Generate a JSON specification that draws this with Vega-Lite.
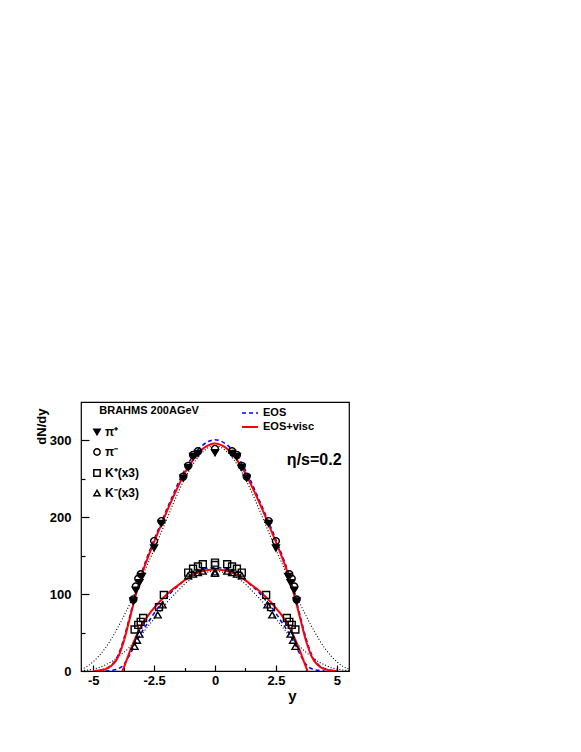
{
  "$schema": "https://vega.github.io/schema/vega-lite/v6.json",
  "width": 268,
  "height": 269,
  "autosize": {"type": "none"},
  "padding": {"left": 81, "top": 402, "right": 232, "bottom": 81},
  "background": "white",
  "config": {
    "view": {"stroke": "black", "strokeWidth": 1.2},
    "font": "Liberation Sans",
    "axis": {"grid": false, "domain": false, "labelFont": "Liberation Sans", "titleFont": "Liberation Sans", "labelColor": "black", "titleColor": "black", "tickColor": "black", "tickWidth": 1.2, "labelFontWeight": "bold", "titleFontWeight": "bold", "labelFontSize": 13},
    "legend": {"labelFont": "Liberation Sans", "labelColor": "black", "labelFontWeight": "bold"}
  },
  "datasets": {
    "curves": [
      {"x":-5.5,"v":2.5,"m":"(dotted)","s":"pi"},{"x":-5.25,"v":6,"m":"(dotted)","s":"pi"},{"x":-5,"v":12,"m":"(dotted)","s":"pi"},{"x":-4.75,"v":20,"m":"(dotted)","s":"pi"},{"x":-4.5,"v":30,"m":"(dotted)","s":"pi"},{"x":-4.25,"v":42,"m":"(dotted)","s":"pi"},{"x":-4,"v":56,"m":"(dotted)","s":"pi"},{"x":-3.75,"v":71,"m":"(dotted)","s":"pi"},{"x":-3.5,"v":87,"m":"(dotted)","s":"pi"},{"x":-3.25,"v":104,"m":"(dotted)","s":"pi"},{"x":-3,"v":122,"m":"(dotted)","s":"pi"},{"x":-2.75,"v":140,"m":"(dotted)","s":"pi"},{"x":-2.5,"v":158,"m":"(dotted)","s":"pi"},{"x":-2.25,"v":177,"m":"(dotted)","s":"pi"},{"x":-2,"v":196,"m":"(dotted)","s":"pi"},{"x":-1.75,"v":215,"m":"(dotted)","s":"pi"},{"x":-1.5,"v":233,"m":"(dotted)","s":"pi"},{"x":-1.25,"v":250,"m":"(dotted)","s":"pi"},{"x":-1,"v":264,"m":"(dotted)","s":"pi"},{"x":-0.75,"v":276,"m":"(dotted)","s":"pi"},{"x":-0.5,"v":285,"m":"(dotted)","s":"pi"},{"x":-0.25,"v":291,"m":"(dotted)","s":"pi"},{"x":0,"v":293,"m":"(dotted)","s":"pi"},{"x":0.25,"v":291,"m":"(dotted)","s":"pi"},{"x":0.5,"v":285,"m":"(dotted)","s":"pi"},{"x":0.75,"v":276,"m":"(dotted)","s":"pi"},{"x":1,"v":264,"m":"(dotted)","s":"pi"},{"x":1.25,"v":250,"m":"(dotted)","s":"pi"},{"x":1.5,"v":233,"m":"(dotted)","s":"pi"},{"x":1.75,"v":215,"m":"(dotted)","s":"pi"},{"x":2,"v":196,"m":"(dotted)","s":"pi"},{"x":2.25,"v":177,"m":"(dotted)","s":"pi"},{"x":2.5,"v":158,"m":"(dotted)","s":"pi"},{"x":2.75,"v":140,"m":"(dotted)","s":"pi"},{"x":3,"v":122,"m":"(dotted)","s":"pi"},{"x":3.25,"v":104,"m":"(dotted)","s":"pi"},{"x":3.5,"v":87,"m":"(dotted)","s":"pi"},{"x":3.75,"v":71,"m":"(dotted)","s":"pi"},{"x":4,"v":56,"m":"(dotted)","s":"pi"},{"x":4.25,"v":42,"m":"(dotted)","s":"pi"},{"x":4.5,"v":30,"m":"(dotted)","s":"pi"},{"x":4.75,"v":20,"m":"(dotted)","s":"pi"},{"x":5,"v":12,"m":"(dotted)","s":"pi"},{"x":5.25,"v":6,"m":"(dotted)","s":"pi"},{"x":5.5,"v":2.5,"m":"(dotted)","s":"pi"},

      {"x":-5.5,"v":0.5,"m":"(dotted)","s":"K"},{"x":-5.25,"v":1.2,"m":"(dotted)","s":"K"},{"x":-5,"v":2.5,"m":"(dotted)","s":"K"},{"x":-4.75,"v":4.5,"m":"(dotted)","s":"K"},{"x":-4.5,"v":8,"m":"(dotted)","s":"K"},{"x":-4.25,"v":12,"m":"(dotted)","s":"K"},{"x":-4,"v":18,"m":"(dotted)","s":"K"},{"x":-3.75,"v":24,"m":"(dotted)","s":"K"},{"x":-3.5,"v":31,"m":"(dotted)","s":"K"},{"x":-3.25,"v":39,"m":"(dotted)","s":"K"},{"x":-3,"v":48,"m":"(dotted)","s":"K"},{"x":-2.75,"v":58,"m":"(dotted)","s":"K"},{"x":-2.5,"v":68,"m":"(dotted)","s":"K"},{"x":-2.25,"v":78,"m":"(dotted)","s":"K"},{"x":-2,"v":88,"m":"(dotted)","s":"K"},{"x":-1.75,"v":97,"m":"(dotted)","s":"K"},{"x":-1.5,"v":105,"m":"(dotted)","s":"K"},{"x":-1.25,"v":113,"m":"(dotted)","s":"K"},{"x":-1,"v":119,"m":"(dotted)","s":"K"},{"x":-0.75,"v":124,"m":"(dotted)","s":"K"},{"x":-0.5,"v":127,"m":"(dotted)","s":"K"},{"x":-0.25,"v":129,"m":"(dotted)","s":"K"},{"x":0,"v":130,"m":"(dotted)","s":"K"},{"x":0.25,"v":129,"m":"(dotted)","s":"K"},{"x":0.5,"v":127,"m":"(dotted)","s":"K"},{"x":0.75,"v":124,"m":"(dotted)","s":"K"},{"x":1,"v":119,"m":"(dotted)","s":"K"},{"x":1.25,"v":113,"m":"(dotted)","s":"K"},{"x":1.5,"v":105,"m":"(dotted)","s":"K"},{"x":1.75,"v":97,"m":"(dotted)","s":"K"},{"x":2,"v":88,"m":"(dotted)","s":"K"},{"x":2.25,"v":78,"m":"(dotted)","s":"K"},{"x":2.5,"v":68,"m":"(dotted)","s":"K"},{"x":2.75,"v":58,"m":"(dotted)","s":"K"},{"x":3,"v":48,"m":"(dotted)","s":"K"},{"x":3.25,"v":39,"m":"(dotted)","s":"K"},{"x":3.5,"v":31,"m":"(dotted)","s":"K"},{"x":3.75,"v":24,"m":"(dotted)","s":"K"},{"x":4,"v":18,"m":"(dotted)","s":"K"},{"x":4.25,"v":12,"m":"(dotted)","s":"K"},{"x":4.5,"v":8,"m":"(dotted)","s":"K"},{"x":4.75,"v":4.5,"m":"(dotted)","s":"K"},{"x":5,"v":2.5,"m":"(dotted)","s":"K"},{"x":5.25,"v":1.2,"m":"(dotted)","s":"K"},{"x":5.5,"v":0.5,"m":"(dotted)","s":"K"},

      {"x":-5,"v":0,"m":"EOS","s":"pi"},{"x":-4.75,"v":1,"m":"EOS","s":"pi"},{"x":-4.5,"v":3,"m":"EOS","s":"pi"},{"x":-4.25,"v":8,"m":"EOS","s":"pi"},{"x":-4,"v":19,"m":"EOS","s":"pi"},{"x":-3.75,"v":41,"m":"EOS","s":"pi"},{"x":-3.5,"v":71,"m":"EOS","s":"pi"},{"x":-3.25,"v":102,"m":"EOS","s":"pi"},{"x":-3,"v":129,"m":"EOS","s":"pi"},{"x":-2.75,"v":151,"m":"EOS","s":"pi"},{"x":-2.5,"v":171,"m":"EOS","s":"pi"},{"x":-2.25,"v":190,"m":"EOS","s":"pi"},{"x":-2,"v":209,"m":"EOS","s":"pi"},{"x":-1.75,"v":227,"m":"EOS","s":"pi"},{"x":-1.5,"v":245,"m":"EOS","s":"pi"},{"x":-1.25,"v":261,"m":"EOS","s":"pi"},{"x":-1,"v":275,"m":"EOS","s":"pi"},{"x":-0.75,"v":286,"m":"EOS","s":"pi"},{"x":-0.5,"v":294,"m":"EOS","s":"pi"},{"x":-0.25,"v":299,"m":"EOS","s":"pi"},{"x":0,"v":301,"m":"EOS","s":"pi"},{"x":0.25,"v":299,"m":"EOS","s":"pi"},{"x":0.5,"v":294,"m":"EOS","s":"pi"},{"x":0.75,"v":286,"m":"EOS","s":"pi"},{"x":1,"v":275,"m":"EOS","s":"pi"},{"x":1.25,"v":261,"m":"EOS","s":"pi"},{"x":1.5,"v":245,"m":"EOS","s":"pi"},{"x":1.75,"v":227,"m":"EOS","s":"pi"},{"x":2,"v":209,"m":"EOS","s":"pi"},{"x":2.25,"v":190,"m":"EOS","s":"pi"},{"x":2.5,"v":171,"m":"EOS","s":"pi"},{"x":2.75,"v":151,"m":"EOS","s":"pi"},{"x":3,"v":129,"m":"EOS","s":"pi"},{"x":3.25,"v":102,"m":"EOS","s":"pi"},{"x":3.5,"v":71,"m":"EOS","s":"pi"},{"x":3.75,"v":41,"m":"EOS","s":"pi"},{"x":4,"v":19,"m":"EOS","s":"pi"},{"x":4.25,"v":8,"m":"EOS","s":"pi"},{"x":4.5,"v":3,"m":"EOS","s":"pi"},{"x":4.75,"v":1,"m":"EOS","s":"pi"},{"x":5,"v":0,"m":"EOS","s":"pi"},

      {"x":-4.5,"v":0,"m":"EOS","s":"K"},{"x":-4.25,"v":0.8,"m":"EOS","s":"K"},{"x":-4,"v":2.5,"m":"EOS","s":"K"},{"x":-3.75,"v":8,"m":"EOS","s":"K"},{"x":-3.5,"v":21,"m":"EOS","s":"K"},{"x":-3.25,"v":37,"m":"EOS","s":"K"},{"x":-3,"v":51,"m":"EOS","s":"K"},{"x":-2.75,"v":63,"m":"EOS","s":"K"},{"x":-2.5,"v":75,"m":"EOS","s":"K"},{"x":-2.25,"v":86,"m":"EOS","s":"K"},{"x":-2,"v":95,"m":"EOS","s":"K"},{"x":-1.75,"v":104,"m":"EOS","s":"K"},{"x":-1.5,"v":111,"m":"EOS","s":"K"},{"x":-1.25,"v":118,"m":"EOS","s":"K"},{"x":-1,"v":124,"m":"EOS","s":"K"},{"x":-0.75,"v":128,"m":"EOS","s":"K"},{"x":-0.5,"v":132,"m":"EOS","s":"K"},{"x":-0.25,"v":134,"m":"EOS","s":"K"},{"x":0,"v":135,"m":"EOS","s":"K"},{"x":0.25,"v":134,"m":"EOS","s":"K"},{"x":0.5,"v":132,"m":"EOS","s":"K"},{"x":0.75,"v":128,"m":"EOS","s":"K"},{"x":1,"v":124,"m":"EOS","s":"K"},{"x":1.25,"v":118,"m":"EOS","s":"K"},{"x":1.5,"v":111,"m":"EOS","s":"K"},{"x":1.75,"v":104,"m":"EOS","s":"K"},{"x":2,"v":95,"m":"EOS","s":"K"},{"x":2.25,"v":86,"m":"EOS","s":"K"},{"x":2.5,"v":75,"m":"EOS","s":"K"},{"x":2.75,"v":63,"m":"EOS","s":"K"},{"x":3,"v":51,"m":"EOS","s":"K"},{"x":3.25,"v":37,"m":"EOS","s":"K"},{"x":3.5,"v":21,"m":"EOS","s":"K"},{"x":3.75,"v":8,"m":"EOS","s":"K"},{"x":4,"v":2.5,"m":"EOS","s":"K"},{"x":4.25,"v":0.8,"m":"EOS","s":"K"},{"x":4.5,"v":0,"m":"EOS","s":"K"},

      {"x":-5,"v":0,"m":"EOS+visc","s":"pi"},{"x":-4.75,"v":0.8,"m":"EOS+visc","s":"pi"},{"x":-4.5,"v":2.5,"m":"EOS+visc","s":"pi"},{"x":-4.25,"v":7,"m":"EOS+visc","s":"pi"},{"x":-4,"v":17,"m":"EOS+visc","s":"pi"},{"x":-3.75,"v":38,"m":"EOS+visc","s":"pi"},{"x":-3.5,"v":68,"m":"EOS+visc","s":"pi"},{"x":-3.25,"v":99,"m":"EOS+visc","s":"pi"},{"x":-3,"v":126,"m":"EOS+visc","s":"pi"},{"x":-2.75,"v":148,"m":"EOS+visc","s":"pi"},{"x":-2.5,"v":168,"m":"EOS+visc","s":"pi"},{"x":-2.25,"v":187,"m":"EOS+visc","s":"pi"},{"x":-2,"v":206,"m":"EOS+visc","s":"pi"},{"x":-1.75,"v":224,"m":"EOS+visc","s":"pi"},{"x":-1.5,"v":241,"m":"EOS+visc","s":"pi"},{"x":-1.25,"v":257,"m":"EOS+visc","s":"pi"},{"x":-1,"v":270,"m":"EOS+visc","s":"pi"},{"x":-0.75,"v":281,"m":"EOS+visc","s":"pi"},{"x":-0.5,"v":289,"m":"EOS+visc","s":"pi"},{"x":-0.25,"v":294,"m":"EOS+visc","s":"pi"},{"x":0,"v":296,"m":"EOS+visc","s":"pi"},{"x":0.25,"v":294,"m":"EOS+visc","s":"pi"},{"x":0.5,"v":289,"m":"EOS+visc","s":"pi"},{"x":0.75,"v":281,"m":"EOS+visc","s":"pi"},{"x":1,"v":270,"m":"EOS+visc","s":"pi"},{"x":1.25,"v":257,"m":"EOS+visc","s":"pi"},{"x":1.5,"v":241,"m":"EOS+visc","s":"pi"},{"x":1.75,"v":224,"m":"EOS+visc","s":"pi"},{"x":2,"v":206,"m":"EOS+visc","s":"pi"},{"x":2.25,"v":187,"m":"EOS+visc","s":"pi"},{"x":2.5,"v":168,"m":"EOS+visc","s":"pi"},{"x":2.75,"v":148,"m":"EOS+visc","s":"pi"},{"x":3,"v":126,"m":"EOS+visc","s":"pi"},{"x":3.25,"v":99,"m":"EOS+visc","s":"pi"},{"x":3.5,"v":68,"m":"EOS+visc","s":"pi"},{"x":3.75,"v":38,"m":"EOS+visc","s":"pi"},{"x":4,"v":17,"m":"EOS+visc","s":"pi"},{"x":4.25,"v":7,"m":"EOS+visc","s":"pi"},{"x":4.5,"v":2.5,"m":"EOS+visc","s":"pi"},{"x":4.75,"v":0.8,"m":"EOS+visc","s":"pi"},{"x":5,"v":0,"m":"EOS+visc","s":"pi"},

      {"x":-3.8,"v":0,"m":"EOS+visc","s":"K"},{"x":-3.7,"v":8,"m":"EOS+visc","s":"K"},{"x":-3.5,"v":25,"m":"EOS+visc","s":"K"},{"x":-3.25,"v":44,"m":"EOS+visc","s":"K"},{"x":-3,"v":60,"m":"EOS+visc","s":"K"},{"x":-2.75,"v":72,"m":"EOS+visc","s":"K"},{"x":-2.5,"v":82,"m":"EOS+visc","s":"K"},{"x":-2.25,"v":91,"m":"EOS+visc","s":"K"},{"x":-2,"v":99,"m":"EOS+visc","s":"K"},{"x":-1.75,"v":106,"m":"EOS+visc","s":"K"},{"x":-1.5,"v":112,"m":"EOS+visc","s":"K"},{"x":-1.25,"v":118,"m":"EOS+visc","s":"K"},{"x":-1,"v":123,"m":"EOS+visc","s":"K"},{"x":-0.75,"v":127,"m":"EOS+visc","s":"K"},{"x":-0.5,"v":130,"m":"EOS+visc","s":"K"},{"x":-0.25,"v":131.5,"m":"EOS+visc","s":"K"},{"x":0,"v":132,"m":"EOS+visc","s":"K"},{"x":0.25,"v":131.5,"m":"EOS+visc","s":"K"},{"x":0.5,"v":130,"m":"EOS+visc","s":"K"},{"x":0.75,"v":127,"m":"EOS+visc","s":"K"},{"x":1,"v":123,"m":"EOS+visc","s":"K"},{"x":1.25,"v":118,"m":"EOS+visc","s":"K"},{"x":1.5,"v":112,"m":"EOS+visc","s":"K"},{"x":1.75,"v":106,"m":"EOS+visc","s":"K"},{"x":2,"v":99,"m":"EOS+visc","s":"K"},{"x":2.25,"v":91,"m":"EOS+visc","s":"K"},{"x":2.5,"v":82,"m":"EOS+visc","s":"K"},{"x":2.75,"v":72,"m":"EOS+visc","s":"K"},{"x":3,"v":60,"m":"EOS+visc","s":"K"},{"x":3.25,"v":44,"m":"EOS+visc","s":"K"},{"x":3.5,"v":25,"m":"EOS+visc","s":"K"},{"x":3.7,"v":8,"m":"EOS+visc","s":"K"},{"x":3.8,"v":0,"m":"EOS+visc","s":"K"}
    ],
    "points": [
      {"x":-3.35,"v":91,"p":"π⁺"},{"x":-3.25,"v":105,"p":"π⁺"},{"x":-3.1,"v":115,"p":"π⁺"},{"x":-3.0,"v":123,"p":"π⁺"},{"x":-2.5,"v":160,"p":"π⁺"},{"x":-2.2,"v":192,"p":"π⁺"},{"x":-1.3,"v":251,"p":"π⁺"},{"x":-1.1,"v":265,"p":"π⁺"},{"x":-0.9,"v":279,"p":"π⁺"},{"x":-0.7,"v":283,"p":"π⁺"},{"x":0,"v":284,"p":"π⁺"},{"x":0.7,"v":283,"p":"π⁺"},{"x":0.9,"v":279,"p":"π⁺"},{"x":1.1,"v":265,"p":"π⁺"},{"x":1.3,"v":251,"p":"π⁺"},{"x":2.2,"v":192,"p":"π⁺"},{"x":2.5,"v":160,"p":"π⁺"},{"x":3.0,"v":123,"p":"π⁺"},{"x":3.1,"v":115,"p":"π⁺"},{"x":3.25,"v":105,"p":"π⁺"},{"x":3.35,"v":91,"p":"π⁺"},
      {"x":-3.35,"v":93,"p":"π⁻"},{"x":-3.25,"v":110,"p":"π⁻"},{"x":-3.15,"v":120,"p":"π⁻"},{"x":-3.05,"v":126,"p":"π⁻"},{"x":-2.5,"v":169,"p":"π⁻"},{"x":-2.2,"v":195,"p":"π⁻"},{"x":-1.3,"v":253,"p":"π⁻"},{"x":-1.1,"v":267,"p":"π⁻"},{"x":-0.9,"v":281,"p":"π⁻"},{"x":-0.7,"v":286,"p":"π⁻"},{"x":0,"v":289,"p":"π⁻"},{"x":0.7,"v":286,"p":"π⁻"},{"x":0.9,"v":281,"p":"π⁻"},{"x":1.1,"v":267,"p":"π⁻"},{"x":1.3,"v":253,"p":"π⁻"},{"x":2.2,"v":195,"p":"π⁻"},{"x":2.5,"v":169,"p":"π⁻"},{"x":3.05,"v":126,"p":"π⁻"},{"x":3.15,"v":120,"p":"π⁻"},{"x":3.25,"v":110,"p":"π⁻"},{"x":3.35,"v":93,"p":"π⁻"},
      {"x":-3.3,"v":54,"p":"K⁺(x3)"},{"x":-3.15,"v":60,"p":"K⁺(x3)"},{"x":-3.05,"v":64,"p":"K⁺(x3)"},{"x":-2.95,"v":69,"p":"K⁺(x3)"},{"x":-2.3,"v":83,"p":"K⁺(x3)"},{"x":-2.1,"v":99,"p":"K⁺(x3)"},{"x":-1.1,"v":128,"p":"K⁺(x3)"},{"x":-0.9,"v":133,"p":"K⁺(x3)"},{"x":-0.7,"v":136,"p":"K⁺(x3)"},{"x":-0.5,"v":139,"p":"K⁺(x3)"},{"x":0,"v":141,"p":"K⁺(x3)"},{"x":0,"v":138,"p":"K⁺(x3)"},{"x":0.5,"v":139,"p":"K⁺(x3)"},{"x":0.7,"v":136,"p":"K⁺(x3)"},{"x":0.9,"v":133,"p":"K⁺(x3)"},{"x":1.1,"v":128,"p":"K⁺(x3)"},{"x":2.1,"v":99,"p":"K⁺(x3)"},{"x":2.3,"v":83,"p":"K⁺(x3)"},{"x":2.95,"v":69,"p":"K⁺(x3)"},{"x":3.05,"v":64,"p":"K⁺(x3)"},{"x":3.15,"v":60,"p":"K⁺(x3)"},{"x":3.3,"v":54,"p":"K⁺(x3)"},
      {"x":-3.3,"v":32,"p":"K⁻(x3)"},{"x":-3.2,"v":40,"p":"K⁻(x3)"},{"x":-3.1,"v":48,"p":"K⁻(x3)"},{"x":-2.35,"v":73,"p":"K⁻(x3)"},{"x":-2.15,"v":86,"p":"K⁻(x3)"},{"x":-1.1,"v":124,"p":"K⁻(x3)"},{"x":-0.9,"v":126,"p":"K⁻(x3)"},{"x":-0.7,"v":128,"p":"K⁻(x3)"},{"x":-0.5,"v":130,"p":"K⁻(x3)"},{"x":0,"v":129,"p":"K⁻(x3)"},{"x":0,"v":127,"p":"K⁻(x3)"},{"x":0.5,"v":130,"p":"K⁻(x3)"},{"x":0.7,"v":128,"p":"K⁻(x3)"},{"x":0.9,"v":126,"p":"K⁻(x3)"},{"x":1.1,"v":124,"p":"K⁻(x3)"},{"x":2.15,"v":86,"p":"K⁻(x3)"},{"x":2.35,"v":73,"p":"K⁻(x3)"},{"x":3.1,"v":48,"p":"K⁻(x3)"},{"x":3.2,"v":40,"p":"K⁻(x3)"},{"x":3.3,"v":32,"p":"K⁻(x3)"}
    ]
  },
  "encoding": {
    "x": {"type": "quantitative",
      "scale": {"domain": [-5.5, 5.5], "nice": false, "zero": false},
      "axis": {"title": "y", "values": [-5,-3.75,-2.5,-1.25,0,1.25,2.5,3.75,5],
        "labelExpr": "abs(datum.value % 2.5) < 0.001 ? toString(datum.value) : ''",
        "tickSize": {"condition": {"test": "abs(datum.value % 2.5) < 0.001", "value": -6}, "value": -3.5},
        "labelPadding": 9, "titleFontSize": 15, "titleX": 211, "titleY": 29, "titleAlign": "center", "titleBaseline": "alphabetic"}},
    "y": {"type": "quantitative",
      "scale": {"domain": [0, 350], "nice": false, "zero": true},
      "axis": {"title": "dN/dy", "values": [0,50,100,150,200,250,300],
        "labelExpr": "datum.value % 100 === 0 ? toString(datum.value) : ''",
        "tickSize": {"condition": {"test": "datum.value % 100 === 0", "value": -8}, "value": -4},
        "labelPadding": 18, "titleFontSize": 13, "titleX": -40, "titleY": 6, "titleAngle": 270, "titleAlign": "right", "titleBaseline": "middle"}}
  },
  "layer": [
    {
      "data": {"name": "curves"},
      "mark": {"type": "line", "interpolate": "monotone", "clip": true},
      "encoding": {
        "x": {"field": "x", "type": "quantitative"},
        "y": {"field": "v", "type": "quantitative"},
        "detail": {"field": "s", "type": "nominal"},
        "color": {"field": "m", "type": "nominal",
          "scale": {"domain": ["(dotted)", "EOS", "EOS+visc"], "range": ["#000000", "#0000ff", "#ff0000"]},
          "legend": {"orient": "none", "legendX": 160, "legendY": 2, "title": null, "values": ["EOS", "EOS+visc"], "symbolType": "stroke", "symbolSize": 256, "symbolStrokeWidth": 2, "labelFontSize": 11, "rowPadding": 0, "labelOffset": 4}},
        "strokeDash": {"field": "m", "type": "nominal",
          "scale": {"domain": ["(dotted)", "EOS", "EOS+visc"], "range": [[1, 2], [4, 3], [1, 0]]},
          "legend": {"orient": "none", "legendX": 160, "legendY": 2, "title": null, "values": ["EOS", "EOS+visc"], "symbolType": "stroke", "symbolSize": 256, "symbolStrokeWidth": 2, "labelFontSize": 11, "rowPadding": 0, "labelOffset": 4}},
        "strokeWidth": {"field": "m", "type": "ordinal",
          "scale": {"domain": ["(dotted)", "EOS", "EOS+visc"], "range": [1.1, 2, 1.5]}, "legend": null}
      }
    },
    {
      "data": {"name": "points"},
      "mark": {"type": "point", "stroke": "black", "strokeWidth": 1.4, "size": 48, "opacity": 1},
      "encoding": {
        "x": {"field": "x", "type": "quantitative"},
        "y": {"field": "v", "type": "quantitative"},
        "shape": {"field": "p", "type": "nominal",
          "scale": {"domain": ["π⁺", "π⁻", "K⁺(x3)", "K⁻(x3)"], "range": ["triangle-down", "circle", "square", "triangle-up"]},
          "legend": {"orient": "none", "legendX": 10, "legendY": 24, "title": null, "symbolSize": 40, "labelFontSize": 12, "rowPadding": 7, "labelOffset": 2,
            "encode": {"symbols": {"update": {"stroke": {"value": "black"}, "strokeWidth": {"value": 1.4}}}}}},
        "fill": {"field": "p", "type": "nominal",
          "scale": {"domain": ["π⁺", "π⁻", "K⁺(x3)", "K⁻(x3)"], "range": ["black", "transparent", "transparent", "transparent"]},
          "legend": {"orient": "none", "legendX": 10, "legendY": 24, "title": null, "symbolSize": 40, "labelFontSize": 12, "rowPadding": 7, "labelOffset": 2,
            "encode": {"symbols": {"update": {"stroke": {"value": "black"}, "strokeWidth": {"value": 1.4}}}}}}
      }
    },
    {
      "data": {"values": [{}]},
      "mark": {"type": "text", "text": "BRAHMS 200AGeV", "font": "Liberation Sans", "fontWeight": "bold", "fontSize": 11, "align": "left", "baseline": "middle", "color": "black"},
      "encoding": {"x": {"datum": -4.75, "type": "quantitative"}, "y": {"datum": 338, "type": "quantitative"}}
    },
    {
      "data": {"values": [{}]},
      "mark": {"type": "text", "text": "η/s=0.2", "font": "Liberation Sans", "fontWeight": "bold", "fontSize": 16, "align": "left", "baseline": "middle", "color": "black"},
      "encoding": {"x": {"datum": 2.95, "type": "quantitative"}, "y": {"datum": 274, "type": "quantitative"}}
    }
  ]
}
